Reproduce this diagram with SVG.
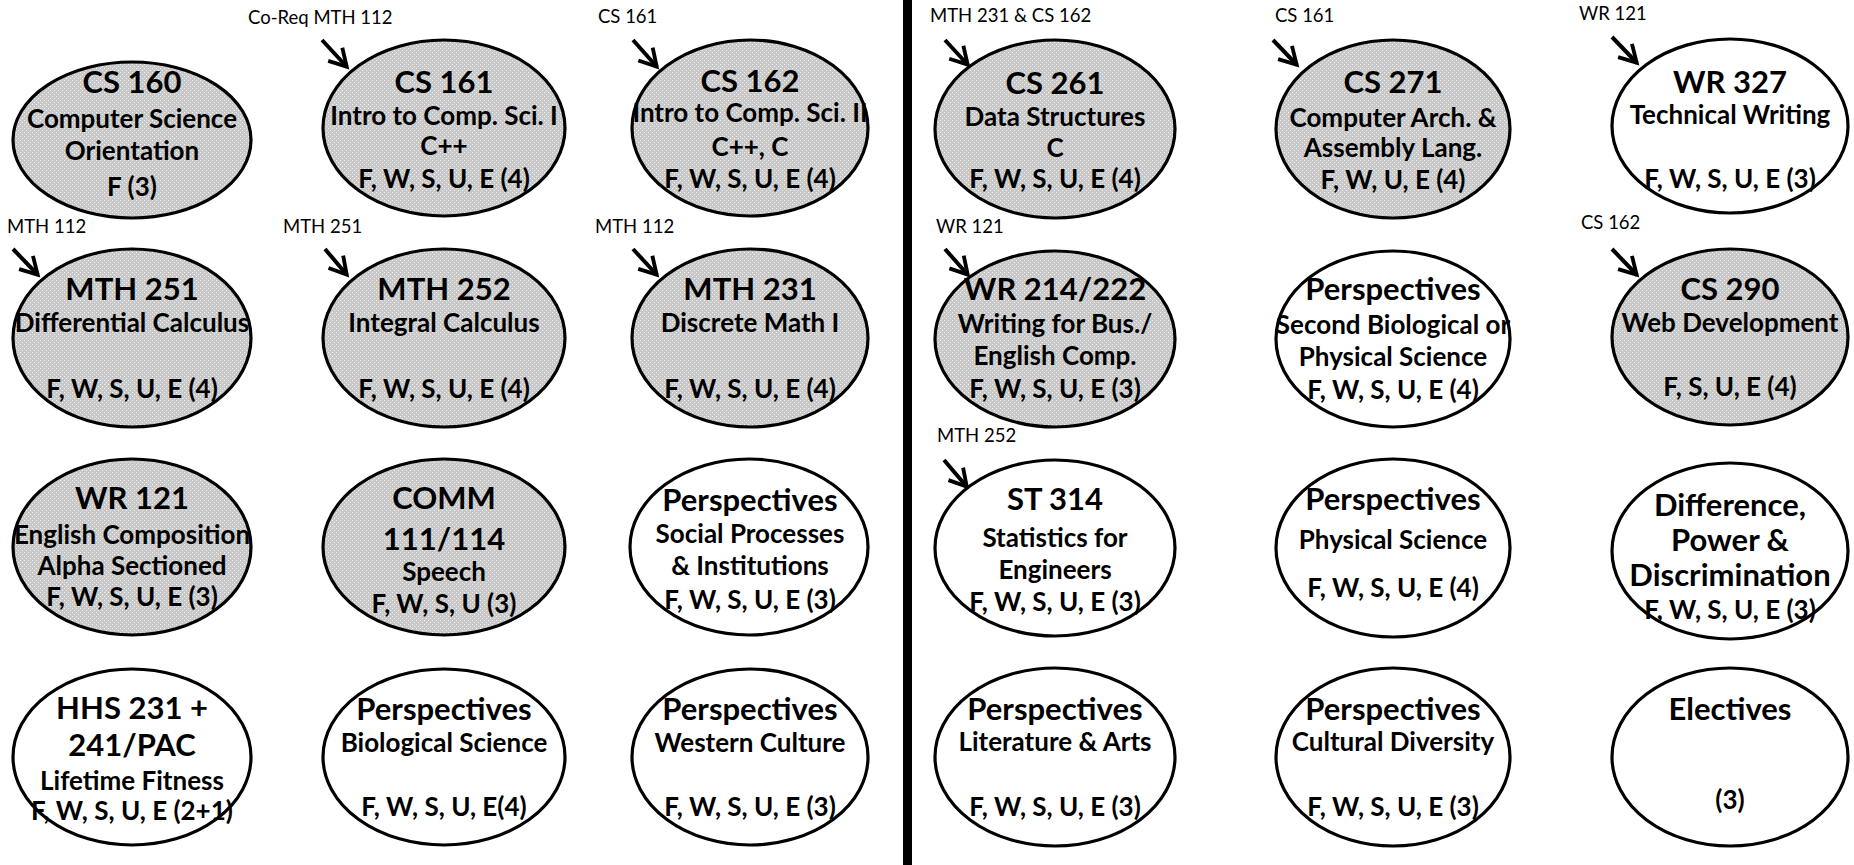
<svg xmlns="http://www.w3.org/2000/svg" width="1854" height="865" viewBox="0 0 1854 865">
<style>
.g{fill:url(#dots);stroke:#000;stroke-width:3.2}
.w{fill:#fff;stroke:#000;stroke-width:3.2}
text{font-family:Lato,"Liberation Sans",sans-serif;fill:#000;text-anchor:middle}
.t{font-size:31px;font-weight:bold}
.s{font-size:26px;font-weight:bold}
.l{font-size:18.5px;text-anchor:start}
.a{fill:none;stroke:#000;stroke-width:4;marker-end:url(#ah)}
</style>
<defs>
<pattern id="dots" width="4" height="4" patternUnits="userSpaceOnUse">
<rect width="4" height="4" fill="#c8c8c8"/>
<rect x="0" y="0" width="1" height="1" fill="#f2f2f2"/>
<rect x="2" y="2" width="1" height="1" fill="#f2f2f2"/>
</pattern>
<marker id="ah" viewBox="0 0 10 10" refX="8.2" refY="5" markerWidth="24" markerHeight="24" markerUnits="userSpaceOnUse" orient="auto">
<path d="M1,1 L8,5 L1,9" fill="none" stroke="#000" stroke-width="1.6"/>
</marker>
</defs>
<rect x="903" y="0" width="9" height="865" fill="#000"/>
<g id="prereq-labels">
<text class="l" x="248" y="24">Co-Req MTH 112</text>
<text class="l" x="598" y="23">CS 161</text>
<text class="l" x="930" y="22">MTH 231 &amp; CS 162</text>
<text class="l" x="1275" y="22">CS 161</text>
<text class="l" x="1579" y="20">WR 121</text>
<text class="l" x="7" y="233">MTH 112</text>
<text class="l" x="283" y="233">MTH 251</text>
<text class="l" x="595" y="233">MTH 112</text>
<text class="l" x="936" y="233">WR 121</text>
<text class="l" x="1581" y="229">CS 162</text>
<text class="l" x="937" y="442">MTH 252</text>
</g>
<g id="connectors">
<path class="a" d="M322,40 L347,67"/>
<path class="a" d="M633,40 L657,67"/>
<path class="a" d="M945,40 L968,65"/>
<path class="a" d="M1273,40 L1297,65"/>
<path class="a" d="M1612,37 L1637,63"/>
<path class="a" d="M13,249 L38,275"/>
<path class="a" d="M325,249 L347,275"/>
<path class="a" d="M633,249 L657,275"/>
<path class="a" d="M945,249 L968,275"/>
<path class="a" d="M1612,249 L1637,275"/>
<path class="a" d="M944,460 L967,487"/>
</g>
<g id="cs160"><ellipse class="g" cx="132" cy="140" rx="119" ry="78"/>
<text class="t" x="132" y="93">CS 160</text><text class="s" x="132" y="128">Computer Science</text><text class="s" x="132" y="160">Orientation</text><text class="s" x="132" y="196">F (3)</text></g>
<g id="cs161"><ellipse class="g" cx="444" cy="128" rx="121" ry="88"/>
<text class="t" x="444" y="93">CS 161</text><text class="s" x="444" y="125">Intro to Comp. Sci. I</text><text class="s" x="444" y="155">C++</text><text class="s" x="444" y="188">F, W, S, U, E (4)</text></g>
<g id="cs162"><ellipse class="g" cx="750" cy="128" rx="118" ry="88"/>
<text class="t" x="750" y="92">CS 162</text><text class="s" x="750" y="122">Intro to Comp. Sci. II</text><text class="s" x="750" y="156">C++, C</text><text class="s" x="750" y="188">F, W, S, U, E (4)</text></g>
<g id="cs261"><ellipse class="g" cx="1055" cy="129" rx="120" ry="89"/>
<text class="t" x="1055" y="94">CS 261</text><text class="s" x="1055" y="126">Data Structures</text><text class="s" x="1055" y="157">C</text><text class="s" x="1055" y="188">F, W, S, U, E (4)</text></g>
<g id="cs271"><ellipse class="g" cx="1393" cy="129" rx="117" ry="89"/>
<text class="t" x="1393" y="93">CS 271</text><text class="s" x="1393" y="127">Computer Arch. &amp;</text><text class="s" x="1393" y="157">Assembly Lang.</text><text class="s" x="1393" y="189">F, W, U, E (4)</text></g>
<g id="wr327"><ellipse class="w" cx="1730" cy="126" rx="118" ry="87"/>
<text class="t" x="1730" y="93">WR 327</text><text class="s" x="1730" y="124">Technical Writing</text><text class="s" x="1730" y="188">F, W, S, U, E (3)</text></g>
<g id="mth251"><ellipse class="g" cx="132" cy="338" rx="119" ry="89"/>
<text class="t" x="132" y="300">MTH 251</text><text class="s" x="132" y="332">Differential Calculus</text><text class="s" x="132" y="398">F, W, S, U, E (4)</text></g>
<g id="mth252"><ellipse class="g" cx="444" cy="338" rx="121" ry="89"/>
<text class="t" x="444" y="300">MTH 252</text><text class="s" x="444" y="332">Integral Calculus</text><text class="s" x="444" y="398">F, W, S, U, E (4)</text></g>
<g id="mth231"><ellipse class="g" cx="750" cy="338" rx="118" ry="89"/>
<text class="t" x="750" y="300">MTH 231</text><text class="s" x="750" y="332">Discrete Math I</text><text class="s" x="750" y="398">F, W, S, U, E (4)</text></g>
<g id="wr214"><ellipse class="g" cx="1055" cy="339" rx="120" ry="88"/>
<text class="t" x="1055" y="300">WR 214/222</text><text class="s" x="1055" y="333">Writing for Bus./</text><text class="s" x="1055" y="365">English Comp.</text><text class="s" x="1055" y="398">F, W, S, U, E (3)</text></g>
<g id="persp-second-science"><ellipse class="w" cx="1393" cy="339" rx="117" ry="88"/>
<text class="t" x="1393" y="300">Perspectives</text><text class="s" x="1393" y="334">Second Biological or</text><text class="s" x="1393" y="366">Physical Science</text><text class="s" x="1393" y="399">F, W, S, U, E (4)</text></g>
<g id="cs290"><ellipse class="g" cx="1730" cy="337" rx="118" ry="88"/>
<text class="t" x="1730" y="300">CS 290</text><text class="s" x="1730" y="332">Web Development</text><text class="s" x="1730" y="396">F, S, U, E (4)</text></g>
<g id="wr121"><ellipse class="g" cx="132" cy="547" rx="119" ry="88"/>
<text class="t" x="132" y="509">WR 121</text><text class="s" x="132" y="544">English Composition</text><text class="s" x="132" y="575">Alpha Sectioned</text><text class="s" x="132" y="606">F, W, S, U, E (3)</text></g>
<g id="comm111"><ellipse class="g" cx="444" cy="547" rx="121" ry="88"/>
<text class="t" x="444" y="509">COMM</text><text class="t" x="444" y="550">111/114</text><text class="s" x="444" y="581">Speech</text><text class="s" x="444" y="613">F, W, S, U (3)</text></g>
<g id="persp-social"><ellipse class="w" cx="749" cy="547" rx="119" ry="88"/>
<text class="t" x="750" y="511">Perspectives</text><text class="s" x="750" y="543">Social Processes</text><text class="s" x="750" y="575">&amp; Institutions</text><text class="s" x="750" y="609">F, W, S, U, E (3)</text></g>
<g id="st314"><ellipse class="w" cx="1055" cy="548" rx="120" ry="88"/>
<text class="t" x="1055" y="510">ST 314</text><text class="s" x="1055" y="547">Statistics for</text><text class="s" x="1055" y="579">Engineers</text><text class="s" x="1055" y="611">F, W, S, U, E (3)</text></g>
<g id="persp-physical"><ellipse class="w" cx="1393" cy="548" rx="117" ry="89"/>
<text class="t" x="1393" y="510">Perspectives</text><text class="s" x="1393" y="549">Physical Science</text><text class="s" x="1393" y="597">F, W, S, U, E (4)</text></g>
<g id="dpd"><ellipse class="w" cx="1730" cy="551" rx="118" ry="88"/>
<text class="t" x="1730" y="516">Difference,</text><text class="t" x="1730" y="551">Power &amp;</text><text class="t" x="1730" y="586">Discrimination</text><text class="s" x="1730" y="619">F, W, S, U, E (3)</text></g>
<g id="hhs231"><ellipse class="w" cx="132" cy="757" rx="119" ry="88"/>
<text class="t" x="132" y="719">HHS 231 +</text><text class="t" x="132" y="756">241/PAC</text><text class="s" x="132" y="790">Lifetime Fitness</text><text class="s" x="132" y="820">F, W, S, U, E (2+1)</text></g>
<g id="persp-bio"><ellipse class="w" cx="444" cy="757" rx="121" ry="88"/>
<text class="t" x="444" y="720">Perspectives</text><text class="s" x="444" y="752">Biological Science</text><text class="s" x="444" y="816">F, W, S, U, E(4)</text></g>
<g id="persp-western"><ellipse class="w" cx="750" cy="757" rx="118" ry="88"/>
<text class="t" x="750" y="720">Perspectives</text><text class="s" x="750" y="752">Western Culture</text><text class="s" x="750" y="816">F, W, S, U, E (3)</text></g>
<g id="persp-lit"><ellipse class="w" cx="1055" cy="757" rx="120" ry="89"/>
<text class="t" x="1055" y="720">Perspectives</text><text class="s" x="1055" y="751">Literature &amp; Arts</text><text class="s" x="1055" y="816">F, W, S, U, E (3)</text></g>
<g id="persp-cultural"><ellipse class="w" cx="1393" cy="757" rx="117" ry="89"/>
<text class="t" x="1393" y="720">Perspectives</text><text class="s" x="1393" y="751">Cultural Diversity</text><text class="s" x="1393" y="816">F, W, S, U, E (3)</text></g>
<g id="electives"><ellipse class="w" cx="1730" cy="757" rx="118" ry="89"/>
<text class="t" x="1730" y="720">Electives</text><text class="s" x="1730" y="809">(3)</text></g>
</svg>
